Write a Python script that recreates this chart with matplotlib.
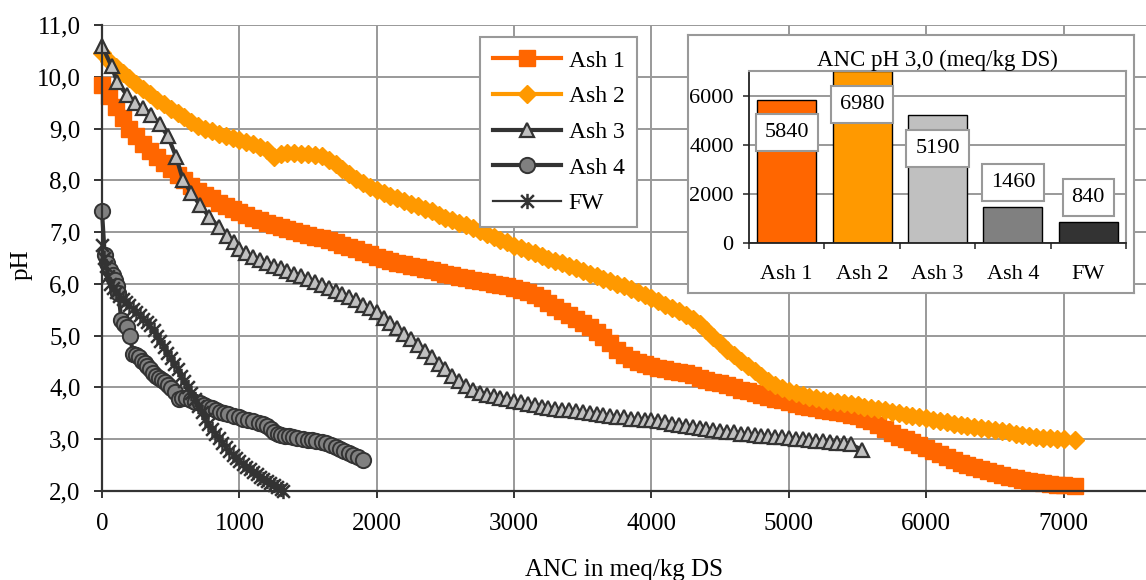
import matplotlib
matplotlib.use("Agg")
import matplotlib.pyplot as plt
from matplotlib.path import Path
from matplotlib.ticker import FuncFormatter

plt.rcParams['font.family'] = ['Liberation Serif', 'DejaVu Serif']

# ---- titration curves (ANC in meq/kg DS, pH) ----
ash1_anc = [0, 50, 100, 150, 200, 250, 300, 350, 400, 450, 500, 550, 600, 650, 700, 750,
            800, 850, 900, 950, 1000, 1050, 1100, 1150, 1200, 1250, 1300, 1350, 1400,
            1450, 1500, 1550, 1600, 1650, 1700, 1750, 1800, 1850, 1900, 1950, 2000,
            2050, 2100, 2150, 2200, 2250, 2300, 2350, 2400, 2450, 2500, 2550, 2600,
            2650, 2700, 2750, 2800, 2850, 2900, 2950, 3000, 3050, 3100, 3150, 3200,
            3250, 3300, 3350, 3400, 3450, 3500, 3550, 3600, 3650, 3700, 3750, 3800,
            3850, 3900, 3950, 4000, 4050, 4100, 4150, 4200, 4250, 4300, 4350, 4400,
            4450, 4500, 4550, 4600, 4650, 4700, 4750, 4800, 4850, 4900, 4950, 5000,
            5050, 5100, 5150, 5200, 5250, 5300, 5350, 5400, 5450, 5500, 5550, 5600,
            5650, 5700, 5750, 5800, 5850, 5900, 5950, 6000, 6050, 6100, 6150, 6200,
            6250, 6300, 6350, 6400, 6450, 6500, 6550, 6600, 6650, 6700, 6750, 6800,
            6850, 6900, 6950, 7000, 7080]
ash1_ph = [9.85, 9.62, 9.42, 9.2, 9.0, 8.85, 8.7, 8.57, 8.45, 8.33, 8.22, 8.11, 8.0, 7.9, 7.8, 7.72,
           7.65, 7.57, 7.5, 7.44, 7.38, 7.33, 7.28, 7.23, 7.18, 7.14, 7.1, 7.06, 7.02,
           6.98, 6.95, 6.91, 6.88, 6.84, 6.8, 6.76, 6.72, 6.67, 6.62, 6.57, 6.52,
           6.48, 6.45, 6.41, 6.38, 6.35, 6.32, 6.29, 6.26, 6.23, 6.2, 6.17, 6.14,
           6.11, 6.08, 6.05, 6.03, 6.0, 5.98, 5.95, 5.92, 5.88, 5.84, 5.79, 5.72,
           5.64, 5.55, 5.47, 5.4, 5.32, 5.25, 5.17, 5.08, 4.97, 4.85, 4.73, 4.62,
           4.55, 4.5, 4.46, 4.42, 4.38, 4.35, 4.32, 4.3, 4.27, 4.24, 4.19, 4.15,
           4.11, 4.08, 4.04, 4.0, 3.96, 3.93, 3.89, 3.86, 3.82, 3.78, 3.75, 3.72,
           3.68, 3.65, 3.62, 3.6, 3.57, 3.55, 3.52, 3.5, 3.47, 3.44, 3.4, 3.35,
           3.28, 3.2, 3.12, 3.05, 3.0, 2.95, 2.89, 2.83, 2.77, 2.72, 2.66, 2.6,
           2.55, 2.5, 2.46, 2.42, 2.38, 2.35, 2.31, 2.28, 2.25, 2.22, 2.2, 2.18,
           2.16, 2.14, 2.12, 2.11, 2.1]

ash2_anc = [0, 50, 100, 150, 200, 250, 300, 350, 400, 450, 500, 550, 600, 650, 700, 750,
            800, 850, 900, 950, 1000, 1050, 1100, 1150, 1200, 1250, 1300, 1350, 1400,
            1450, 1500, 1550, 1600, 1650, 1700, 1750, 1800, 1850, 1900, 1950, 2000,
            2050, 2100, 2150, 2200, 2250, 2300, 2350, 2400, 2450, 2500, 2550, 2600,
            2650, 2700, 2750, 2800, 2850, 2900, 2950, 3000, 3050, 3100, 3150, 3200,
            3250, 3300, 3350, 3400, 3450, 3500, 3550, 3600, 3650, 3700, 3750, 3800,
            3850, 3900, 3950, 4000, 4050, 4100, 4150, 4200, 4250, 4300, 4350, 4400,
            4450, 4500, 4550, 4600, 4650, 4700, 4750, 4800, 4850, 4900, 4950, 5000,
            5050, 5100, 5150, 5200, 5250, 5300, 5350, 5400, 5450, 5500, 5550, 5600,
            5650, 5700, 5750, 5800, 5850, 5900, 5950, 6000, 6050, 6100, 6150, 6200,
            6250, 6300, 6350, 6400, 6450, 6500, 6550, 6600, 6650, 6700, 6750, 6800,
            6850, 6900, 6950, 7000, 7080]
ash2_ph = [10.45, 10.3, 10.18, 10.08, 9.98, 9.87, 9.76, 9.66, 9.56, 9.47, 9.38, 9.3, 9.22, 9.13, 9.05, 9.0,
           8.95, 8.9, 8.86, 8.82, 8.78, 8.74, 8.7, 8.64, 8.58, 8.45, 8.5, 8.53, 8.52,
           8.5, 8.5, 8.49, 8.47, 8.4, 8.32, 8.22, 8.12, 8.03, 7.95, 7.88, 7.82,
           7.76, 7.7, 7.65, 7.6, 7.55, 7.5, 7.45, 7.4, 7.34, 7.28, 7.23, 7.18,
           7.13, 7.08, 7.02, 6.96, 6.9, 6.85, 6.8, 6.74, 6.69, 6.64, 6.59, 6.54,
           6.49, 6.44, 6.4, 6.35, 6.3, 6.25, 6.2, 6.15, 6.1, 6.05, 6.0, 5.95,
           5.9, 5.84, 5.78, 5.72, 5.66, 5.6, 5.54, 5.48, 5.4, 5.32, 5.22, 5.1,
           4.97, 4.85, 4.73, 4.62, 4.52, 4.42, 4.32, 4.22, 4.13, 4.05, 3.98, 3.93,
           3.89, 3.85, 3.82, 3.79, 3.76, 3.74, 3.72, 3.7, 3.68, 3.66, 3.63, 3.6,
           3.58, 3.56, 3.53, 3.5, 3.47, 3.45, 3.43, 3.41, 3.38, 3.36, 3.33, 3.3,
           3.27, 3.25, 3.23, 3.21, 3.19, 3.17, 3.15, 3.13, 3.11, 3.09, 3.07, 3.05,
           3.03, 3.02, 3.01, 3.0, 2.98]

ash3_anc = [0, 70, 110, 180, 240, 300, 360, 420, 480, 540, 590, 650, 710, 780, 850,
            910, 960, 1000, 1050, 1100, 1150, 1200, 1250, 1300, 1350, 1400, 1450,
            1500, 1550, 1600, 1650, 1700, 1750, 1800, 1850, 1900, 1950, 2000, 2050,
            2100, 2150, 2200, 2250, 2300, 2350, 2400, 2450, 2500, 2550, 2600, 2650,
            2700, 2750, 2800, 2850, 2900, 2950, 3000, 3050, 3100, 3150, 3200, 3250,
            3300, 3350, 3400, 3450, 3500, 3550, 3600, 3650, 3700, 3750, 3800, 3850,
            3900, 3950, 4000, 4050, 4100, 4150, 4200, 4250, 4300, 4350, 4400, 4450,
            4500, 4550, 4600, 4650, 4700, 4750, 4800, 4850, 4900, 4950, 5000, 5050,
            5100, 5150, 5200, 5250, 5300, 5350, 5400, 5450, 5530]
ash3_ph = [10.6, 10.2, 9.9, 9.65, 9.5, 9.4, 9.27, 9.08, 8.85, 8.45, 8.0, 7.76, 7.53, 7.3, 7.1,
           6.92, 6.8, 6.68, 6.6, 6.52, 6.46, 6.4, 6.35, 6.3, 6.25, 6.2, 6.15,
           6.1, 6.04, 5.97, 5.92, 5.87, 5.81, 5.75, 5.68, 5.6, 5.53, 5.45, 5.35,
           5.25, 5.14, 5.03, 4.93, 4.82, 4.7, 4.58, 4.46, 4.35, 4.23, 4.12, 4.03,
           3.95, 3.9, 3.86, 3.83, 3.8, 3.77, 3.74, 3.71, 3.68, 3.66, 3.63, 3.61,
           3.59, 3.57, 3.56, 3.54, 3.52, 3.5, 3.49, 3.47, 3.45, 3.43, 3.42, 3.4,
           3.39, 3.38, 3.37, 3.35, 3.33, 3.3, 3.28, 3.26, 3.24, 3.22, 3.2, 3.18,
           3.16, 3.14, 3.13, 3.11, 3.1, 3.08, 3.07, 3.06, 3.05, 3.04, 3.03, 3.01,
           3.0, 2.98, 2.97, 2.96, 2.95, 2.93, 2.92, 2.9, 2.8]

ash4_anc = [0, 20, 40, 60, 80, 95, 110, 120, 140, 160, 180, 205, 225, 250, 270, 290,
            310, 330, 350, 370, 390, 415, 440, 460, 480, 505, 530, 560, 585, 610,
            650, 680, 710, 740, 770, 800, 830, 860, 890, 920, 960, 1000, 1030, 1060,
            1100, 1140, 1170, 1200, 1230, 1250, 1280, 1300, 1330, 1360, 1390, 1420,
            1460, 1500, 1530, 1560, 1600, 1630, 1670, 1700, 1730, 1760, 1800, 1830,
            1860, 1900]
ash4_ph = [7.4, 6.55, 6.4, 6.27, 6.17, 6.08, 5.95, 5.83, 5.3, 5.23, 5.17, 5.0, 4.65, 4.62, 4.58, 4.52,
           4.47, 4.41, 4.35, 4.28, 4.22, 4.18, 4.15, 4.1, 4.05, 3.98, 3.92, 3.78, 3.79, 3.8,
           3.75, 3.72, 3.69, 3.66, 3.63, 3.6, 3.56, 3.53, 3.5, 3.48, 3.45, 3.42, 3.4, 3.38,
           3.35, 3.32, 3.29, 3.25, 3.19, 3.14, 3.1, 3.08, 3.07, 3.06, 3.05, 3.03,
           3.01, 2.99, 2.98, 2.96, 2.94, 2.92, 2.89, 2.85, 2.82, 2.78, 2.74, 2.7,
           2.66, 2.6]

fw_anc = [0, 15, 30, 45, 60, 80, 100, 125, 150, 175, 200, 225, 250, 275, 300, 325,
          350, 375, 400, 425, 450, 475, 500, 525, 550, 575, 600, 625, 650, 675, 700,
          725, 750, 775, 800, 825, 850, 875, 900, 925, 950, 975, 1000, 1025, 1050,
          1075, 1100, 1125, 1150, 1175, 1200, 1225, 1250, 1275, 1300, 1320]
fw_ph = [6.75, 6.5, 6.35, 6.15, 6.0, 5.92, 5.85, 5.77, 5.7, 5.65, 5.6, 5.52, 5.45, 5.39, 5.33, 5.27,
         5.2, 5.1, 5.0, 4.89, 4.78, 4.67, 4.57, 4.46, 4.35, 4.23, 4.12, 4.01, 3.9, 3.77, 3.65,
         3.52, 3.4, 3.3, 3.2, 3.11, 3.02, 2.93, 2.85, 2.77, 2.7, 2.64, 2.58, 2.52, 2.47,
         2.42, 2.37, 2.32, 2.28, 2.24, 2.2, 2.16, 2.12, 2.07, 2.03, 2.0]

# ---- inset bar chart ----
samples = ['Ash 1', 'Ash 2', 'Ash 3', 'Ash 4', 'FW']
anc_ph3 = [5840, 6980, 5190, 1460, 840]
bar_colors = ['#FF6600', '#FF9900', '#C0C0C0', '#808080', '#333333']

x_ticks = [0, 1000, 2000, 3000, 4000, 5000, 6000, 7000]
y_ticks = [2, 3, 4, 5, 6, 7, 8, 9, 10, 11]
inset_y_ticks = [0, 2000, 4000, 6000]

# Excel style asterisk: an x with a vertical bar
asterisk = Path([(-1, -1), (1, 1), (-1, 1), (1, -1), (0, -1.2), (0, 1.2)],
                [Path.MOVETO, Path.LINETO] * 3)

W, H = 1146, 580
fig = plt.figure(figsize=(W / 100, H / 100), dpi=100)
fig.patch.set_facecolor('white')

# main axes
ax = fig.add_axes([102 / W, 1 - 491 / H, 1 - 102 / W, (491 - 25) / H])
ax.set_xlim(0, 7600)
ax.set_ylim(2, 11)
ax.set_xticks(x_ticks)
ax.set_yticks(y_ticks)
ax.yaxis.set_major_formatter(FuncFormatter(lambda v, p: f"{v:.1f}".replace('.', ',')))
ax.grid(True, color='#999999', linewidth=1.4)
ax.set_axisbelow(True)
for s in ['top', 'right']:
    ax.spines[s].set_visible(False)
for s in ['left', 'bottom']:
    ax.spines[s].set_color('#333333')
    ax.spines[s].set_linewidth(1.6)
ax.tick_params(axis='x', length=5, width=1.4, color='#333333', pad=11, labelsize=18)
ax.tick_params(axis='y', length=5.5, width=1.4, color='#333333', pad=10, labelsize=18)

ax.plot(ash1_anc, ash1_ph, color='#FF6600', lw=3, marker='s', ms=11,
        mfc='#FF6600', mec='#FF6600', label='Ash 1', clip_on=False)
ax.plot(ash2_anc, ash2_ph, color='#FF9900', lw=3, marker='D', ms=9,
        mfc='#FF9900', mec='#FF9900', label='Ash 2', clip_on=False)
ax.plot(ash3_anc, ash3_ph, color='#333333', lw=3, marker='^', ms=10.5,
        mfc='#C0C0C0', mec='#333333', mew=1.6, label='Ash 3', clip_on=False)
ax.plot(ash4_anc, ash4_ph, color='#333333', lw=3, marker='o', ms=11,
        mfc='#808080', mec='#333333', mew=1.4, label='Ash 4', clip_on=False)
ax.plot(fw_anc, fw_ph, color='#333333', lw=2.2, marker=asterisk, ms=11,
        mfc='none', mec='#333333', mew=1.8, label='FW', clip_on=False)

ax.set_xlabel('ANC in meq/kg DS', fontsize=18)
ax.xaxis.set_label_coords(0.5, (491 - 559) / 466)
ax.set_ylabel('pH', fontsize=18)
ax.yaxis.set_label_coords((33 - 102) / 1044, (491 - 265) / 466)

leg = ax.legend(loc='upper left', bbox_to_anchor=(480 / W, 1 - 37 / H),
                bbox_transform=fig.transFigure, fontsize=17, frameon=True,
                fancybox=False, framealpha=1, edgecolor='#999999',
                handlelength=2.9, handletextpad=0.3, labelspacing=0.6,
                borderpad=0.55, borderaxespad=0)
leg.get_frame().set_linewidth(1.5)
leg.get_lines()[4].set_linewidth(1.6)

# inset frame
bg = fig.add_axes([688 / W, 1 - 293 / H, (1134 - 688) / W, (293 - 35) / H])
bg.set_zorder(5)
bg.set_xticks([])
bg.set_yticks([])
for s in bg.spines.values():
    s.set_color('#999999')
    s.set_linewidth(1.5)

# inset bars
ax2 = fig.add_axes([749 / W, 1 - 243 / H, (1126 - 749) / W, (243 - 71) / H])
ax2.set_zorder(6)
ax2.patch.set_alpha(0)
ax2.bar(range(len(samples)), anc_ph3, width=0.78, color=bar_colors,
        edgecolor='black', linewidth=1)
ax2.set_xlim(-0.5, len(samples) - 0.5)
ax2.set_ylim(0, 7000)
ax2.set_yticks(inset_y_ticks)
ax2.yaxis.grid(True, color='#999999', linewidth=1.4)
ax2.set_axisbelow(True)
ax2.set_xticks([i - 0.5 for i in range(len(samples) + 1)])
ax2.set_xticklabels([])
ax2.set_xticks(range(len(samples)), minor=True)
ax2.set_xticklabels(samples, minor=True)
ax2.tick_params(axis='x', which='major', length=4, width=1.2, color='#333333')
ax2.tick_params(axis='x', which='minor', length=0, pad=16, labelsize=16)
ax2.tick_params(axis='y', length=4, width=1.2, color='#333333', pad=7, labelsize=16)
for s in ['top', 'right']:
    ax2.spines[s].set_color('#999999')
    ax2.spines[s].set_linewidth(1.5)
for s in ['left', 'bottom']:
    ax2.spines[s].set_color('#222222')
    ax2.spines[s].set_linewidth(1.3)
ax2.set_title('ANC pH 3,0 (meq/kg DS)', fontsize=16.5, pad=3)

for i, v in enumerate(anc_ph3):
    off = -24 if v > 3000 else 18
    ax2.annotate(str(v), (i, v), xytext=(0, off), textcoords='offset points',
                 ha='center', va='center', fontsize=16,
                 bbox=dict(boxstyle='square,pad=0.4', fc='white', ec='#999999', lw=1.5))

fig.savefig('out.png', dpi=100)
